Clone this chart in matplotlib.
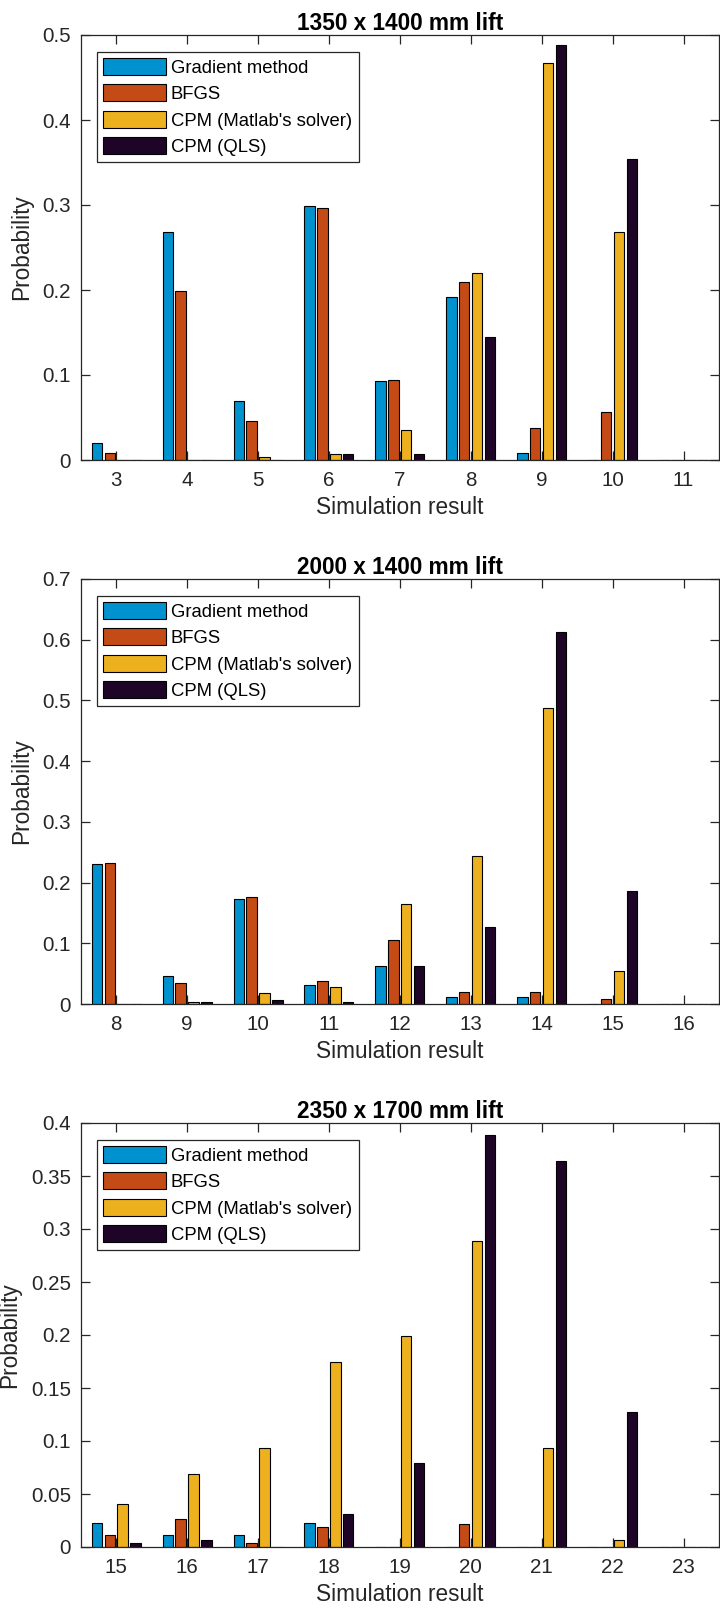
import numpy as np
import matplotlib
matplotlib.use("Agg")
import matplotlib.pyplot as plt
from matplotlib.ticker import FuncFormatter

plt.rcParams['font.family'] = ['Liberation Sans', 'DejaVu Sans']

series_names = ["Gradient method", "BFGS", "CPM (Matlab's solver)", "CPM (QLS)"]
colors = ['#0092CF', '#C44B16', '#EDB120', '#1E0527']

# Panel 1: 1350 x 1400 mm lift
p1_title = "1350 x 1400 mm lift"
p1_x = [3, 4, 5, 6, 7, 8, 9, 10, 11]
p1_grad = [0.020, 0.268, 0.070, 0.299, 0.093, 0.192, 0.008, 0.0, 0.0]
p1_bfgs = [0.008, 0.199, 0.046, 0.296, 0.094, 0.210, 0.038, 0.057, 0.0]
p1_cpm = [0.0, 0.0, 0.004, 0.007, 0.035, 0.220, 0.467, 0.268, 0.0]
p1_qls = [0.0, 0.0, 0.0, 0.007, 0.007, 0.145, 0.488, 0.354, 0.0]
p1_yticks = [0, 0.1, 0.2, 0.3, 0.4, 0.5]

# Panel 2: 2000 x 1400 mm lift
p2_title = "2000 x 1400 mm lift"
p2_x = [8, 9, 10, 11, 12, 13, 14, 15, 16]
p2_grad = [0.230, 0.0465, 0.173, 0.031, 0.062, 0.012, 0.012, 0.0, 0.0]
p2_bfgs = [0.233, 0.034, 0.176, 0.038, 0.105, 0.019, 0.019, 0.008, 0.0]
p2_cpm = [0.0, 0.003, 0.018, 0.028, 0.165, 0.244, 0.488, 0.055, 0.0]
p2_qls = [0.0, 0.004, 0.007, 0.004, 0.062, 0.127, 0.612, 0.186, 0.0]
p2_yticks = [0, 0.1, 0.2, 0.3, 0.4, 0.5, 0.6, 0.7]

# Panel 3: 2350 x 1700 mm lift
p3_title = "2350 x 1700 mm lift"
p3_x = [15, 16, 17, 18, 19, 20, 21, 22, 23]
p3_grad = [0.023, 0.0115, 0.0115, 0.023, 0.0, 0.0, 0.0, 0.0, 0.0]
p3_bfgs = [0.0115, 0.026, 0.0035, 0.0185, 0.0, 0.022, 0.0, 0.0, 0.0]
p3_cpm = [0.041, 0.069, 0.093, 0.175, 0.199, 0.289, 0.093, 0.0065, 0.0]
p3_qls = [0.0035, 0.007, 0.0, 0.031, 0.079, 0.389, 0.364, 0.127, 0.0]
p3_yticks = [0, 0.05, 0.1, 0.15, 0.2, 0.25, 0.3, 0.35, 0.4]

panels = [
    (p1_title, p1_x, [p1_grad, p1_bfgs, p1_cpm, p1_qls], p1_yticks),
    (p2_title, p2_x, [p2_grad, p2_bfgs, p2_cpm, p2_qls], p2_yticks),
    (p3_title, p3_x, [p3_grad, p3_bfgs, p3_cpm, p3_qls], p3_yticks),
]

W, H = 720, 1614
fig = plt.figure(figsize=(W / 100, H / 100), dpi=100)

ax_left = 80.7 / W
ax_width = (719.0 - 80.7) / W
tops_bottoms = [(35.0, 460.0), (579.0, 1004.0), (1123.0, 1547.0)]

axcol = '#262626'
tick_fs = 14.8
lab_fs = 16.3
leg_fs = 13.3

nser = 4
groupwidth = min(0.8, nser / (nser + 1.5))
barw = groupwidth / nser * 0.8

def fmt(v, pos):
    return "%g" % v

for (title, xs, series, yticks), (top, bot) in zip(panels, tops_bottoms):
    ax = fig.add_axes([ax_left, 1 - bot / H, ax_width, (bot - top) / H])
    xs_arr = np.array(xs, dtype=float)
    for i, (vals, c, name) in enumerate(zip(series, colors, series_names)):
        off = -groupwidth / 2 + (2 * i + 1) * groupwidth / (2 * nser)
        ax.bar(xs_arr + off, vals, width=barw, color=c, edgecolor='black',
               linewidth=0.8, label=name, zorder=2)
    ax.set_xlim(xs[0] - 0.5, xs[-1] + 0.5)
    ax.set_ylim(yticks[0], yticks[-1])
    ax.set_xticks(xs)
    ax.set_yticks(yticks)
    ax.yaxis.set_major_formatter(FuncFormatter(fmt))
    ax.tick_params(axis='both', direction='in', length=6.5, width=0.9,
                   colors=axcol, labelsize=tick_fs, top=True, right=True)
    ax.tick_params(axis='x', pad=8)
    ax.tick_params(axis='y', pad=7)
    for sp in ax.spines.values():
        sp.set_color(axcol)
        sp.set_linewidth(0.9)
    ax.set_title(title, fontsize=lab_fs, fontweight='bold', color='black', pad=3.5)
    ax.set_xlabel("Simulation result", fontsize=lab_fs, color=axcol, labelpad=4.5)
    ax.set_ylabel("Probability", fontsize=lab_fs, color=axcol, labelpad=7)
    leg = ax.legend(loc='upper left', bbox_to_anchor=(16 / 638.3, 1 - 16.7 / (bot - top)),
                    borderaxespad=0, fontsize=leg_fs, frameon=True, fancybox=False,
                    shadow=False, framealpha=1, edgecolor=axcol,
                    handlelength=3.4, handleheight=1.03, handletextpad=0.27,
                    borderpad=0.35, labelspacing=0.41)
    leg.get_frame().set_linewidth(0.9)

fig.savefig("out.png", dpi=100, facecolor='white')
